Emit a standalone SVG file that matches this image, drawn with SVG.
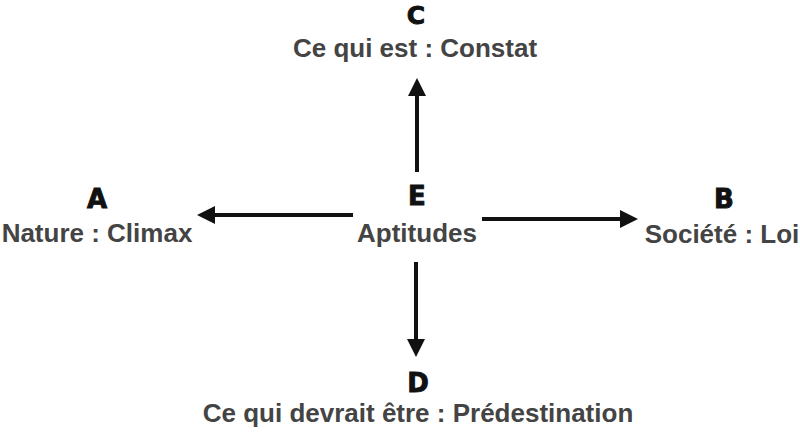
<svg xmlns="http://www.w3.org/2000/svg" width="800" height="434" viewBox="0 0 800 434">
<style>
.bg{fill:#ffffff}
.letter{font-family:"DejaVu Sans","Liberation Sans",sans-serif;font-weight:bold;font-size:26px;fill:#111111;stroke:#111111;stroke-width:0.9;text-anchor:middle}
.label{font-family:"Liberation Sans",Arial,sans-serif;font-weight:bold;font-size:26px;fill:#444444;text-anchor:middle}
.conn{stroke:#111111;stroke-width:4;fill:none;marker-end:url(#head)}
</style>
<defs>
<marker id="head" markerUnits="userSpaceOnUse" viewBox="0 0 18 18" refX="0" refY="9" markerWidth="18" markerHeight="18" orient="auto">
<path d="M0,0 L18,9 L0,18 Z" fill="#111111"/>
</marker>
</defs>
<rect class="bg" x="0" y="0" width="800" height="434"/>
<g id="connectors">
<path class="conn" d="M417,172 L417,96"/>
<path class="conn" d="M416,262 L416,339"/>
<path class="conn" d="M353,215 L215,215"/>
<path class="conn" d="M482,219 L620,219"/>
</g>
<g id="node-C">
<text class="letter" x="416" y="24" style="font-size:25px">C</text>
<text class="label" x="415" y="57">Ce qui est : Constat</text>
</g>
<g id="node-E">
<text class="letter" x="417" y="205">E</text>
<text class="label" x="417" y="242">Aptitudes</text>
</g>
<g id="node-A">
<text class="letter" x="97" y="208">A</text>
<text class="label" x="97" y="242">Nature : Climax</text>
</g>
<g id="node-B">
<text class="letter" x="724" y="208">B</text>
<text class="label" x="722" y="243">Société : Loi</text>
</g>
<g id="node-D">
<text class="letter" x="418" y="392">D</text>
<text class="label" x="418" y="422">Ce qui devrait être : Prédestination</text>
</g>
</svg>
